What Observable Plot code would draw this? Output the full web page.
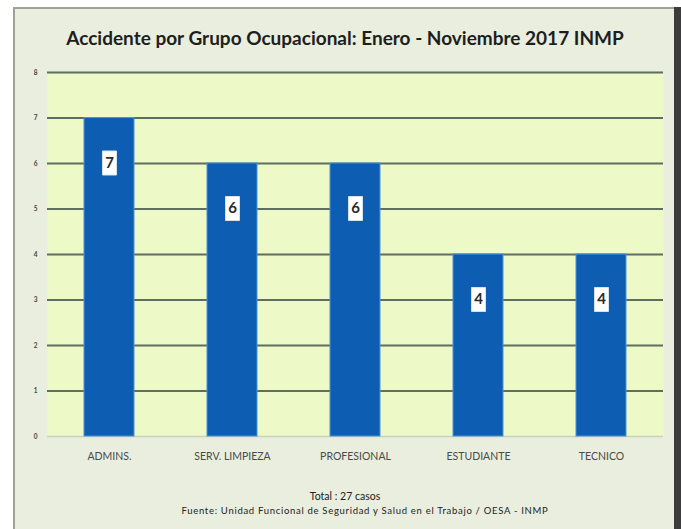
<!DOCTYPE html>
<html>
<head>
<meta charset="utf-8">
<script src="https://cdn.jsdelivr.net/npm/d3@7"></script>
<script src="https://cdn.jsdelivr.net/npm/@observablehq/plot@0.6"></script>
<style>
  html, body { margin: 0; padding: 0; background: #ffffff; width: 681px; height: 529px; overflow: hidden; }
  #frame { position: absolute; left: 13px; top: 7px; width: 659px; height: 522px;
           background: #e9eedf; border-left: 2px solid #9ea299; border-top: 2px solid #9ea299; }
  #rightedge { position: absolute; left: 674px; top: 7px; width: 7px; height: 522px; background: #3c3c3c; }
  #title { position: absolute; left: 0; width: 690px; top: 26px; text-align: center;
           font-family: Lato, "Open Sans", sans-serif; font-weight: 700; font-size: 19px; color: #1e1e1e; }
  #chart { position: absolute; left: 0; top: 56px; }
  #total { position: absolute; left: 0; width: 690px; top: 490px; text-align: center;
           font-family: Lato, sans-serif; font-size: 10.5px; color: #222; }
  #source { position: absolute; left: 0; width: 730px; top: 505px; text-align: center;
           font-family: Lato, sans-serif; font-size: 9.5px; letter-spacing: 0.7px; color: #222; }
</style>
</head>
<body>
<div id="frame"></div>
<div id="rightedge"></div>
<div id="title">Accidente por Grupo Ocupacional: Enero - Noviembre 2017 INMP</div>
<div id="chart"></div>
<div id="total">Total : 27 casos</div>
<div id="source">Fuente: Unidad Funcional de Seguridad y Salud en el Trabajo / OESA - INMP</div>
<script>
const categories = ["ADMINS.", "SERV. LIMPIEZA", "PROFESIONAL", "ESTUDIANTE", "TECNICO"];
const values = [7, 6, 6, 4, 4];
const yTicks = [0, 1, 2, 3, 4, 5, 6, 7, 8];

const data = categories.map((c, i) => ({cat: c, value: values[i]}));

const boxSymbol = {
  draw(context) {
    context.moveTo(-7, -12);
    context.lineTo(7, -12);
    context.lineTo(7, 12);
    context.lineTo(-7, 12);
    context.closePath();
  }
};

const plot = Plot.plot({
  width: 681,
  height: 420,
  marginLeft: 47,
  marginRight: 18,
  marginTop: 16,
  marginBottom: 40,
  style: {background: "transparent", fontFamily: "Lato, sans-serif"},
  x: {domain: categories, paddingInner: 0.595, paddingOuter: 0.2975, label: null},
  y: {domain: [0, 8], label: null},
  marks: [
    Plot.frame({fill: "#eef9c8", stroke: null}),
    Plot.ruleY(yTicks.filter(d => d > 0), {stroke: "#5f6f5f", strokeWidth: 2}),
    Plot.ruleY([0], {stroke: "#c9d2bc", strokeWidth: 1.5}),
    Plot.barY(data, {x: "cat", y: "value", fill: "#0d5eb2", stroke: "#4b92d8", strokeWidth: 1}),
    Plot.dot(data, {x: "cat", y: "value", dy: 45, symbol: boxSymbol, fill: "#ffffff", stroke: "#d5e2ee", strokeWidth: 1}),
    Plot.text(data, {x: "cat", y: "value", dy: 45, text: d => String(d.value), fontSize: 15, fontWeight: "bold", fill: "#2a2a2a", fontFamily: "Lato, sans-serif"}),
    Plot.axisX({tickSize: 0, tickPadding: 16, fontSize: 10.5, fill: "#4a4a4a", label: null}),
    Plot.axisY({ticks: yTicks, tickSize: 0, tickPadding: 10, fontSize: 6.5, fontWeight: "bold", fill: "#444", label: null, tickFormat: d => String(d)})
  ]
});

const svg = d3.select(plot);
const defs = svg.insert("defs", ":first-child");
const grad = defs.append("linearGradient").attr("id", "plotbg").attr("x1", 0).attr("y1", 0).attr("x2", 0).attr("y2", 1);
grad.append("stop").attr("offset", "0%").attr("stop-color", "#fafde6");
grad.append("stop").attr("offset", "50%").attr("stop-color", "#eefad0");
grad.append("stop").attr("offset", "100%").attr("stop-color", "#dcf6a4");
svg.select("g[aria-label=frame] rect").attr("fill", "url(#plotbg)");
svg.selectAll("g[aria-label=frame]").attr("fill", "url(#plotbg)");

document.getElementById("chart").appendChild(plot);
</script>
</body>
</html>
